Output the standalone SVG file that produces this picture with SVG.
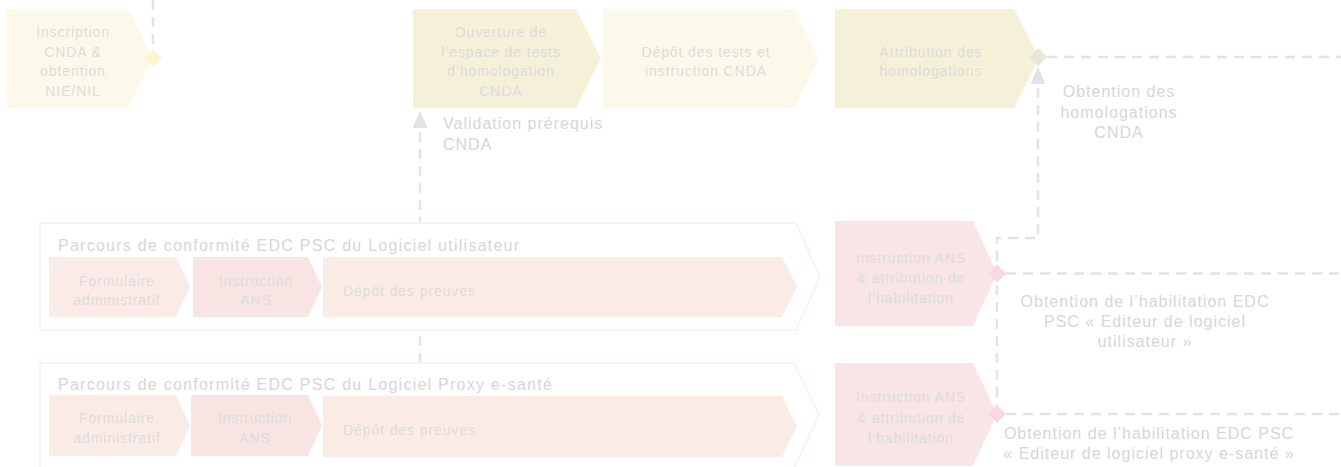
<svg xmlns="http://www.w3.org/2000/svg" width="1341" height="467" viewBox="0 0 1341 467">
<defs>
<style>
.t{font-family:"Liberation Sans",Arial,sans-serif;font-size:14px;fill:#dcdcdc;letter-spacing:0.9px;text-anchor:middle}
.l{font-family:"Liberation Sans",Arial,sans-serif;font-size:16px;fill:#d6d6d6;letter-spacing:1px}
.ttl{letter-spacing:1.25px}
.lm{text-anchor:middle}
.yl{fill:#fdf9ea}
.yd{fill:#f5f0d8}
.p1{fill:#fbebe6}
.p2{fill:#f9e4e4}
.pb{fill:#f9e4e6}
.grp{fill:#ffffff;stroke:#fcf1f1;stroke-width:2}
.dash{fill:none;stroke:#e2e2e7;stroke-width:2.5;stroke-dasharray:10 7}
</style>
<marker id="arr" markerUnits="userSpaceOnUse" markerWidth="17" markerHeight="15" refX="0" refY="7.5" orient="auto">
<path d="M0,0 L17,7.5 L0,15 z" fill="#e2e2e7"/>
</marker>
</defs>
<rect width="1341" height="467" fill="#ffffff"/>

<g id="connectors">
<path class="dash" d="M153,0 V49"/>
<path class="dash" d="M420,363 V128" marker-end="url(#arr)"/>
<path class="dash" d="M997,414 V238 H1038 V84" marker-end="url(#arr)"/>
<path class="dash" d="M1047,57 H1341"/>
<path class="dash" d="M1006,273.5 H1341"/>
<path class="dash" d="M1006,414 H1341"/>
</g>

<g id="n-inscription">
<polygon class="yl" points="7,9 128,9 153,58 128,108 7,108"/>
<text class="t" x="73" y="37">Inscription</text>
<text class="t" x="73" y="56.5">CNDA &amp;</text>
<text class="t" x="73" y="76">obtention</text>
<text class="t" x="73" y="96">NIE/NIL</text>
</g>

<g id="n-ouverture">
<polygon class="yd" points="413,9 576,9 601,58.5 576,108 413,108"/>
<text class="t" x="501" y="37">Ouverture de</text>
<text class="t" x="501" y="56.5">l’espace de tests</text>
<text class="t" x="501" y="76">d’homologation</text>
<text class="t" x="501" y="96">CNDA</text>
</g>

<g id="n-depot-tests">
<polygon class="yl" points="603,9 794,9 819,58.5 794,108 603,108"/>
<text class="t" x="706" y="57">Dépôt des tests et</text>
<text class="t" x="706" y="76">instruction CNDA</text>
</g>

<g id="n-attribution">
<polygon class="yd" points="835,9 1014,9 1039,58 1014,108 835,108"/>
<text class="t" x="931" y="57">Attribution des</text>
<text class="t" x="931" y="76">homologations</text>
</g>

<g id="grp-utilisateur">
<polygon class="grp" points="40,223 796,223 820,276.5 796,330 40,330"/>
<text class="l ttl" x="58" y="251">Parcours de conformité EDC PSC du Logiciel utilisateur</text>
<g id="u-formulaire">
<polygon class="p1" points="49,257 176,257 190,287 176,317 49,317"/>
<text class="t" x="117" y="286">Formulaire</text>
<text class="t" x="117" y="305">administratif</text>
</g>
<g id="u-instruction">
<polygon class="p2" points="193,257 308,257 322,287 308,317 193,317"/>
<text class="t" x="256" y="286">Instruction</text>
<text class="t" x="256" y="305">ANS</text>
</g>
<g id="u-depot">
<polygon class="p1" points="323,257 782,257 797,287 782,317 323,317"/>
<text class="t" x="343" y="296" style="text-anchor:start">Dépôt des preuves</text>
</g>
</g>

<g id="grp-proxy">
<polygon class="grp" points="40,363 794,363 819,415 794,468 40,468"/>
<text class="l ttl" x="58" y="390">Parcours de conformité EDC PSC du Logiciel Proxy e-santé</text>
<g id="p-formulaire">
<polygon class="p1" points="49,395 176,395 190,425.5 176,456 49,456"/>
<text class="t" x="117" y="423">Formulaire</text>
<text class="t" x="117" y="443">administratif</text>
</g>
<g id="p-instruction">
<polygon class="p2" points="191,395 308,395 322,425.5 308,456 191,456"/>
<text class="t" x="255" y="423">Instruction</text>
<text class="t" x="255" y="443">ANS</text>
</g>
<g id="p-depot">
<polygon class="p1" points="323,396 782,396 797,426.5 782,457 323,457"/>
<text class="t" x="343" y="435" style="text-anchor:start">Dépôt des preuves</text>
</g>
</g>

<g id="n-habilitation-utilisateur">
<polygon class="pb" points="835,221 973,221 997,273.5 973,326 835,326"/>
<text class="t" x="911" y="263">Instruction ANS</text>
<text class="t" x="911" y="283">&amp; attribution de</text>
<text class="t" x="911" y="303">l’habilitation</text>
</g>

<g id="n-habilitation-proxy">
<polygon class="pb" points="835,363 973,363 997,414 973,466 835,466"/>
<text class="t" x="911" y="402">Instruction ANS</text>
<text class="t" x="911" y="422.5">&amp; attribution de</text>
<text class="t" x="911" y="443">l’habilitation</text>
</g>

<g id="milestones">
<polygon points="153,49 162,58 153,67 144,58" fill="#fdf5cc"/>
<polygon points="1038,48 1047,57 1038,66 1029,57" fill="#e8e5da"/>
<polygon points="997,264.5 1006,273.5 997,282.5 988,273.5" fill="#f9d8e2"/>
<polygon points="997,405 1006,414 997,423 988,414" fill="#f9d8e2"/>
</g>

<g id="labels">
<text class="l" x="443" y="129">Validation prérequis</text>
<text class="l" x="443" y="150">CNDA</text>
<text class="l lm" x="1119" y="97">Obtention des</text>
<text class="l lm" x="1119" y="118">homologations</text>
<text class="l lm" x="1119" y="138">CNDA</text>
<text class="l lm" x="1145" y="307">Obtention de l’habilitation EDC</text>
<text class="l lm" x="1145" y="327">PSC « Editeur de logiciel</text>
<text class="l lm" x="1145" y="347">utilisateur »</text>
<text class="l lm" x="1149" y="439">Obtention de l’habilitation EDC PSC</text>
<text class="l lm" x="1149" y="459">« Editeur de logiciel proxy e-santé »</text>
</g>
</svg>
